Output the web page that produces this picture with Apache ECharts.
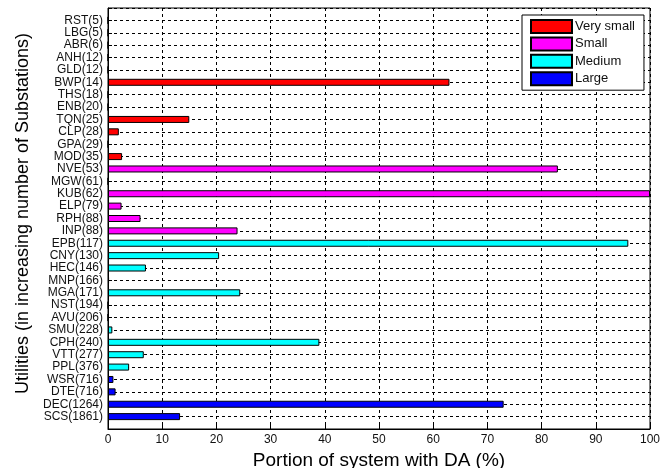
<!DOCTYPE html>
<html><head><meta charset="utf-8">
<script src="https://cdn.jsdelivr.net/npm/echarts@6/dist/echarts.min.js"></script>
<style>html,body{margin:0;padding:0;background:#fff}#c{width:672px;height:468px}</style>
</head><body><div id="c"></div>
<script>
const categories = ["RST(5)","LBG(5)","ABR(6)","ANH(12)","GLD(12)","BWP(14)","THS(18)","ENB(20)","TQN(25)","CLP(28)","GPA(29)","MOD(35)",
  "NVE(53)","MGW(61)","KUB(62)","ELP(79)","RPH(88)","INP(88)",
  "EPB(117)","CNY(130)","HEC(146)","MNP(166)","MGA(171)","NST(194)","AVU(206)","SMU(228)","CPH(240)","VTT(277)","PPL(376)",
  "WSR(716)","DTE(716)","DEC(1264)","SCS(1861)"];
const values = [0,0,0,0,0,63,0,0,15,2,0,2.6,
  83,0,100,2.5,6,23.9,
  96,20.5,7,0.2,24.4,0,0,0.8,39,6.6,3.9,
  1,1.4,73,13.3];
const groups = ["Very small","Very small","Very small","Very small","Very small","Very small","Very small","Very small","Very small","Very small","Very small","Very small",
  "Small","Small","Small","Small","Small","Small",
  "Medium","Medium","Medium","Medium","Medium","Medium","Medium","Medium","Medium","Medium","Medium",
  "Large","Large","Large","Large"];
const groupNames = ["Very small","Small","Medium","Large"];
const groupColors = ["#ff0000","#ff00ff","#00ffff","#0000ff"];
const xTicks = [0,10,20,30,40,50,60,70,80,90,100];

const paddedCats = [""].concat(categories, [""]);
const series = groupNames.map((g, gi) => ({
  name: g, type: 'bar', stack: 'all', barWidth: 7,
  itemStyle: {color: groupColors[gi], borderColor: '#000', borderWidth: 1},
  data: [null].concat(values.map((v, i) => groups[i] === g ? v : null), [null])
}));

const chart = echarts.init(document.getElementById('c'), null, {renderer: 'canvas'});
const font = 'Arial, "Liberation Sans", sans-serif';
chart.setOption({
  animation: false,
  backgroundColor: '#fff',
  grid: {left: 108, right: 22, top: 8, bottom: 39, show: true, borderColor: '#000', borderWidth: 1,
    backgroundColor: 'transparent', containLabel: false, outerBoundsMode: 'none'},
  legend: {
    data: groupNames, left: 522, top: 15, orient: 'vertical',
    itemWidth: 41, itemHeight: 13, itemGap: 2.4,
    padding: [4, 9, 4, 8],
    backgroundColor: '#fff', borderColor: '#000', borderWidth: 1, borderRadius: 0,
    icon: 'rect',
    textStyle: {fontFamily: font, fontSize: 13, lineHeight: 13, color: '#111', padding: [0,0,0,-2]}
  },
  xAxis: {
    type: 'value', min: 0, max: 100, interval: 10,
    name: 'Portion of system with DA (%)', nameLocation: 'middle', nameGap: 20,
    nameTextStyle: {fontFamily: font, fontSize: 19, color: '#000'},
    axisLine: {show: true, lineStyle: {color: '#000'}},
    axisTick: {show: true, inside: true, length: 5, lineStyle: {color: '#000'}},
    axisLabel: {fontFamily: font, fontSize: 12, color: '#111', margin: 5,
      formatter: v => xTicks.includes(v) ? String(v) : ''},
    splitLine: {show: true, lineStyle: {color: '#000', type: [3, 3], width: 1}}
  },
  yAxis: {
    type: 'category', data: paddedCats, inverse: true, boundaryGap: false,
    name: 'Utilities (in increasing number of Substations)', nameLocation: 'middle', nameGap: 76,
    nameTextStyle: {fontFamily: font, fontSize: 18, color: '#000', padding: [0, 0, 0, 10]},
    axisLine: {show: true, lineStyle: {color: '#000'}},
    axisTick: {show: true, inside: true, length: 4, lineStyle: {color: '#000'}},
    axisLabel: {fontFamily: font, fontSize: 12, color: '#111', margin: 5, interval: 0},
    splitLine: {show: true, interval: 0, lineStyle: {color: '#000', type: [3, 3], width: 1}}
  },
  series: series
});
</script></body></html>
